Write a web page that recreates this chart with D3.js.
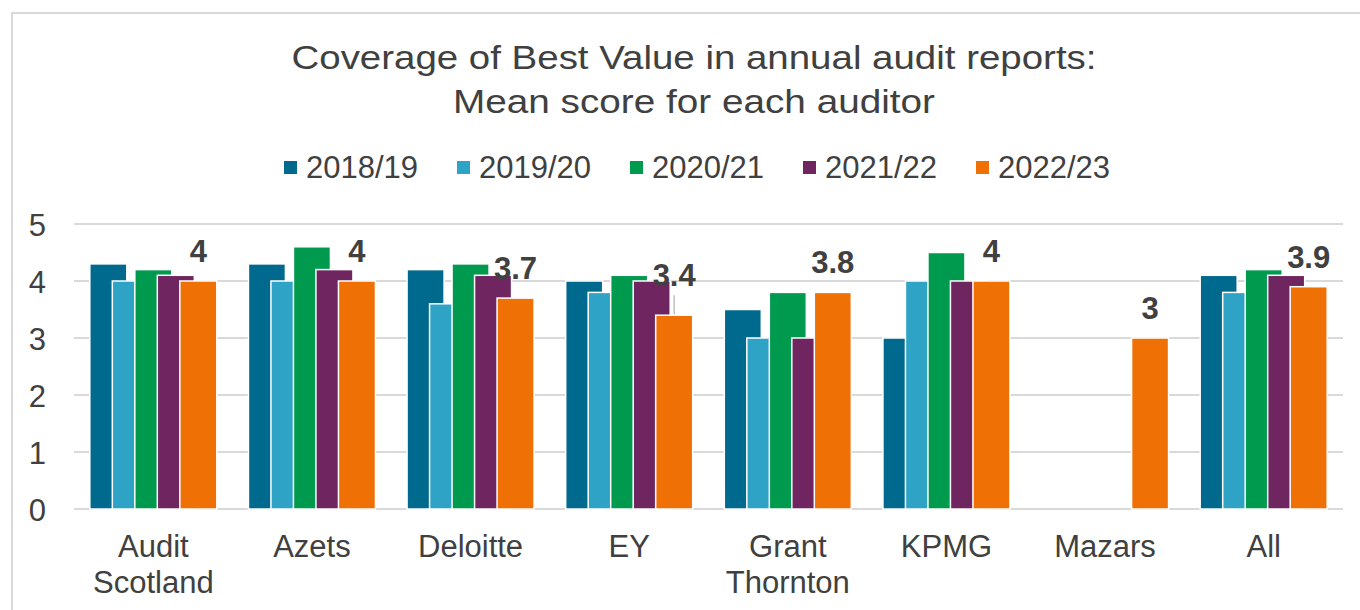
<!DOCTYPE html>
<html>
<head>
<meta charset="utf-8">
<script src="https://cdn.jsdelivr.net/npm/d3@7"></script>
<style>
  html, body { margin: 0; padding: 0; background: #fff; }
  svg { display: block; font-family: "Liberation Sans", Arial, sans-serif; }
</style>
</head>
<body>
<svg id="chart" width="1360" height="610"></svg>
<script>
const categories = [["Audit", "Scotland"], ["Azets"], ["Deloitte"], ["EY"], ["Grant", "Thornton"], ["KPMG"], ["Mazars"], ["All"]];
const seriesNames = ["2018/19", "2019/20", "2020/21", "2021/22", "2022/23"];
const v2018 = [4.3, 4.3, 4.2, 4.0, 3.5, 3.0, null, 4.1];
const v2019 = [4.0, 4.0, 3.6, 3.8, 3.0, 4.0, null, 3.8];
const v2020 = [4.2, 4.6, 4.3, 4.1, 3.8, 4.5, null, 4.2];
const v2021 = [4.1, 4.2, 4.1, 4.0, 3.0, 4.0, null, 4.1];
const v2022 = [4.0, 4.0, 3.7, 3.4, 3.8, 4.0, 3.0, 3.9];
const labels2022 = ["4", "4", "3.7", "3.4", "3.8", "4", "3", "3.9"];
const yTicks = [0, 1, 2, 3, 4, 5];
const colors = ["#006a8e", "#2ea3c6", "#009a4e", "#6e2560", "#ef7105"];
const title = ["Coverage of Best Value in annual audit reports:", "Mean score for each auditor"];

const series = [v2018, v2019, v2020, v2021, v2022];
const svg = d3.select("#chart");
const textColor = "#404040";
const gridColor = "#d9d9d9";

// outer chart border
svg.append("rect").attr("x", 12).attr("y", 13).attr("width", 1400).attr("height", 700)
  .attr("fill", "none").attr("stroke", gridColor).attr("stroke-width", 2);

// title
const titleLen = [805, 482];
svg.append("g").selectAll("text").data(title).join("text")
  .attr("x", 694).attr("y", (d, i) => 69 + i * 44)
  .attr("text-anchor", "middle").attr("fill", textColor)
  .attr("font-size", 34)
  .attr("textLength", (d, i) => titleLen[i]).attr("lengthAdjust", "spacingAndGlyphs")
  .text(d => d);

// legend
const lg = svg.append("g").selectAll("g").data(seriesNames).join("g")
  .attr("transform", (d, i) => `translate(${284 + i * 173},0)`);
lg.append("rect").attr("x", 0).attr("y", 161).attr("width", 13).attr("height", 13)
  .attr("fill", (d, i) => colors[i]);
lg.append("text").attr("x", 22).attr("y", 178).attr("fill", textColor)
  .attr("font-size", 31).text(d => d);

// scales
const x = d3.scaleBand().domain(d3.range(categories.length)).range([74, 1343]);
const y = d3.scaleLinear().domain([0, 5]).range([509, 224]);

// gridlines
svg.append("g").selectAll("line").data(yTicks).join("line")
  .attr("x1", 74).attr("x2", 1343)
  .attr("y1", d => y(d)).attr("y2", d => y(d))
  .attr("stroke", gridColor).attr("stroke-width", 2);

// y axis labels
const yAxis = d3.axisLeft(y).tickValues(yTicks).tickSize(0).tickPadding(0).tickFormat(d3.format("d"));
const ya = svg.append("g").attr("transform", "translate(46,0)").call(yAxis);
ya.select(".domain").remove();
ya.selectAll("text").attr("font-size", 31).attr("fill", textColor)
  .attr("font-family", "Liberation Sans, Arial, sans-serif").attr("dy", "0.36em");

// bars (drawn series by series so later ones overlap earlier)
const barW = 37, barStep = 22.5;
const groupW = barStep * (seriesNames.length - 1) + barW;
const groupOff = (x.bandwidth() - groupW) / 2;
series.forEach((vals, si) => {
  svg.append("g").selectAll("rect")
    .data(vals.map((v, ci) => ({ v, ci })).filter(d => d.v !== null))
    .join("rect")
    .attr("x", d => x(d.ci) + groupOff + si * barStep)
    .attr("y", d => y(d.v))
    .attr("width", barW)
    .attr("height", d => y(0) - y(d.v))
    .attr("fill", colors[si])
    .attr("stroke", "#fff").attr("stroke-width", 1.5);
});

// data labels on 2022/23
const lastIdx = seriesNames.length - 1;
const labelShift = [0, 0, 0, 10, 0, 0, 0, 0];
const lx = ci => x(ci) + groupOff + lastIdx * barStep + barW / 2;
svg.append("g").selectAll("line").data(d3.range(categories.length).filter(ci => labelShift[ci] > 0))
  .join("line")
  .attr("x1", ci => lx(ci)).attr("x2", ci => lx(ci))
  .attr("y1", ci => y(v2022[ci]) - 19 - labelShift[ci] + 9).attr("y2", ci => y(v2022[ci]) - 1)
  .attr("stroke", "#bfbfbf").attr("stroke-width", 1.5);
svg.append("g").selectAll("text").data(labels2022).join("text")
  .attr("x", (d, ci) => lx(ci))
  .attr("y", (d, ci) => y(v2022[ci]) - 19 - labelShift[ci])
  .attr("text-anchor", "middle").attr("font-weight", "bold")
  .attr("font-size", 31).attr("fill", textColor).text(d => d);

// category labels
const cg = svg.append("g").selectAll("text").data(categories).join("text")
  .attr("x", (d, i) => x(i) + x.bandwidth() / 2)
  .attr("y", 557).attr("text-anchor", "middle")
  .attr("font-size", 31).attr("fill", textColor);
cg.selectAll("tspan").data(d => d).join("tspan")
  .attr("x", function () { return d3.select(this.parentNode).attr("x"); })
  .attr("dy", (d, i) => i === 0 ? 0 : 36).text(d => d);
</script>
</body>
</html>
